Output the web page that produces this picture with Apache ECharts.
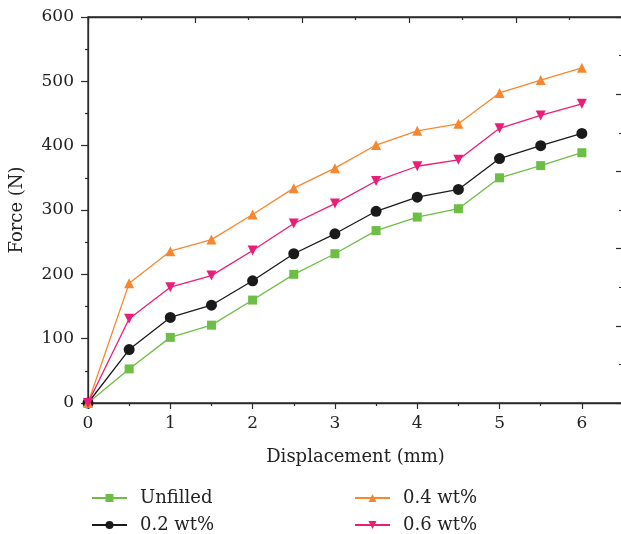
<!DOCTYPE html>
<html>
<head>
<meta charset="utf-8">
<script src="https://cdn.jsdelivr.net/npm/echarts@6/dist/echarts.min.js"></script>
<style>
  html, body { margin: 0; padding: 0; background: #fff; }
  #chart { width: 621px; height: 534px; }
</style>
</head>
<body>
<div id="chart"></div>
<script>
// displacement (mm)
const displacement = [0, 0.5, 1, 1.5, 2, 2.5, 3, 3.5, 4, 4.5, 5, 5.5, 6]

// force (N) per filler content
const unfilled = [0, 53, 102, 121, 160, 200, 232, 268, 289, 302, 350, 369, 389]
const wt02 = [0, 83, 133, 152, 190, 232, 263, 298, 320, 332, 380, 400, 419]
const wt04 = [0, 186, 236, 254, 293, 334, 365, 401, 423, 434, 482, 502, 521]
const wt06 = [0, 131, 180, 198, 237, 279, 310, 345, 368, 378, 427, 447, 465]

const seriesNames = ["Unfilled", "0.2 wt%", "0.4 wt%", "0.6 wt%"]
const xTickLabels = ["0", "1", "2", "3", "4", "5", "6"]

const FONT = "DejaVu Serif"
const AXIS_COLOR = "#2b2b2b"

function pairs(values) {
  return displacement.map((x, i) => [x, values[i]])
}

function lineSeries(name, values, color, symbol, size, rotate) {
  return {
    name,
    type: "line",
    xAxisIndex: 0,
    yAxisIndex: 0,
    data: pairs(values),
    symbol,
    symbolSize: size,
    symbolRotate: rotate || 0,
    lineStyle: { color, width: 1.3 },
    itemStyle: { color },
    emphasis: { disabled: true },
    animation: false
  }
}

function legendColumn(names, left) {
  return {
    data: names,
    orient: "vertical",
    left,
    top: 484,
    height: 50,
    itemWidth: 35,
    itemHeight: 10,
    itemGap: 9,
    textStyle: {
      fontFamily: FONT,
      fontSize: 18,
      lineHeight: 18,
      color: "#222",
      padding: [0, 0, 0, 8]
    }
  }
}

// box axes on top/right carry their own tick spacing, labels left blank
function boxTicks(major, minor) {
  return {
    axisLine: { show: true, onZero: false, lineStyle: { color: AXIS_COLOR, width: 1.3 } },
    axisTick: { show: true, inside: true, length: major, lineStyle: { color: AXIS_COLOR, width: 1.2 } },
    minorTick: { show: true, splitNumber: 2, length: minor, lineStyle: { color: AXIS_COLOR, width: 1.2 } },
    axisLabel: { show: true, color: "rgba(0,0,0,0)", formatter: () => "" },
    splitLine: { show: false }
  }
}

const plotBox = { left: 88, top: 17, right: -2, bottom: 131, outerBoundsMode: "none" }

const chart = echarts.init(document.getElementById("chart"))

chart.setOption({
  backgroundColor: "#fff",
  textStyle: { fontFamily: FONT },
  grid: [
    Object.assign({ show: true, borderColor: AXIS_COLOR, borderWidth: 1.3, backgroundColor: "transparent" }, plotBox),
    Object.assign({}, plotBox)
  ],
  legend: [
    legendColumn([seriesNames[0], seriesNames[1]], 86),
    legendColumn([seriesNames[2], seriesNames[3]], 349)
  ],
  xAxis: [
    {
      type: "value",
      gridIndex: 0,
      position: "bottom",
      min: 0,
      max: 6.5,
      interval: 1,
      name: "Displacement (mm)",
      nameLocation: "middle",
      nameGap: 45,
      nameTextStyle: { fontFamily: FONT, fontSize: 18, color: "#222" },
      axisLine: { show: true, onZero: false, lineStyle: { color: AXIS_COLOR, width: 1.3 } },
      axisTick: { show: true, inside: false, length: 6, lineStyle: { color: AXIS_COLOR, width: 1.2 } },
      minorTick: { show: true, splitNumber: 2, length: 3, lineStyle: { color: AXIS_COLOR, width: 1.2 } },
      axisLabel: {
        fontFamily: FONT,
        fontSize: 17,
        color: "#222",
        margin: 12,
        formatter: v => (Number.isInteger(v) && v <= 6 ? xTickLabels[v] : "")
      },
      splitLine: { show: false }
    },
    Object.assign({ type: "value", gridIndex: 1, position: "top", min: 0, max: 5, interval: 1 }, boxTicks(6, 3))
  ],
  yAxis: [
    {
      type: "value",
      gridIndex: 0,
      position: "left",
      min: 0,
      max: 600,
      interval: 100,
      name: "Force (N)",
      nameLocation: "middle",
      nameGap: 62,
      nameTextStyle: { fontFamily: FONT, fontSize: 18, color: "#222" },
      axisLine: { show: true, onZero: false, lineStyle: { color: AXIS_COLOR, width: 1.3 } },
      axisTick: { show: true, inside: false, length: 7, lineStyle: { color: AXIS_COLOR, width: 1.2 } },
      minorTick: { show: true, splitNumber: 2, length: 3, lineStyle: { color: AXIS_COLOR, width: 1.2 } },
      axisLabel: { fontFamily: FONT, fontSize: 17, color: "#222", margin: 14 },
      splitLine: { show: false }
    },
    Object.assign({ type: "value", gridIndex: 0, position: "right", min: 0, max: 5, interval: 1 }, boxTicks(7, 4)),
    {
      type: "value",
      gridIndex: 1,
      min: 0,
      max: 5,
      show: false
    }
  ],
  series: [
    lineSeries(seriesNames[0], unfilled, "#6dbe45", "rect", 9),
    lineSeries(seriesNames[1], wt02, "#1a1a1a", "circle", 11),
    lineSeries(seriesNames[2], wt04, "#f7872f", "triangle", 10),
    lineSeries(seriesNames[3], wt06, "#ec1c79", "triangle", 10, 180)
  ]
})
</script>
</body>
</html>
